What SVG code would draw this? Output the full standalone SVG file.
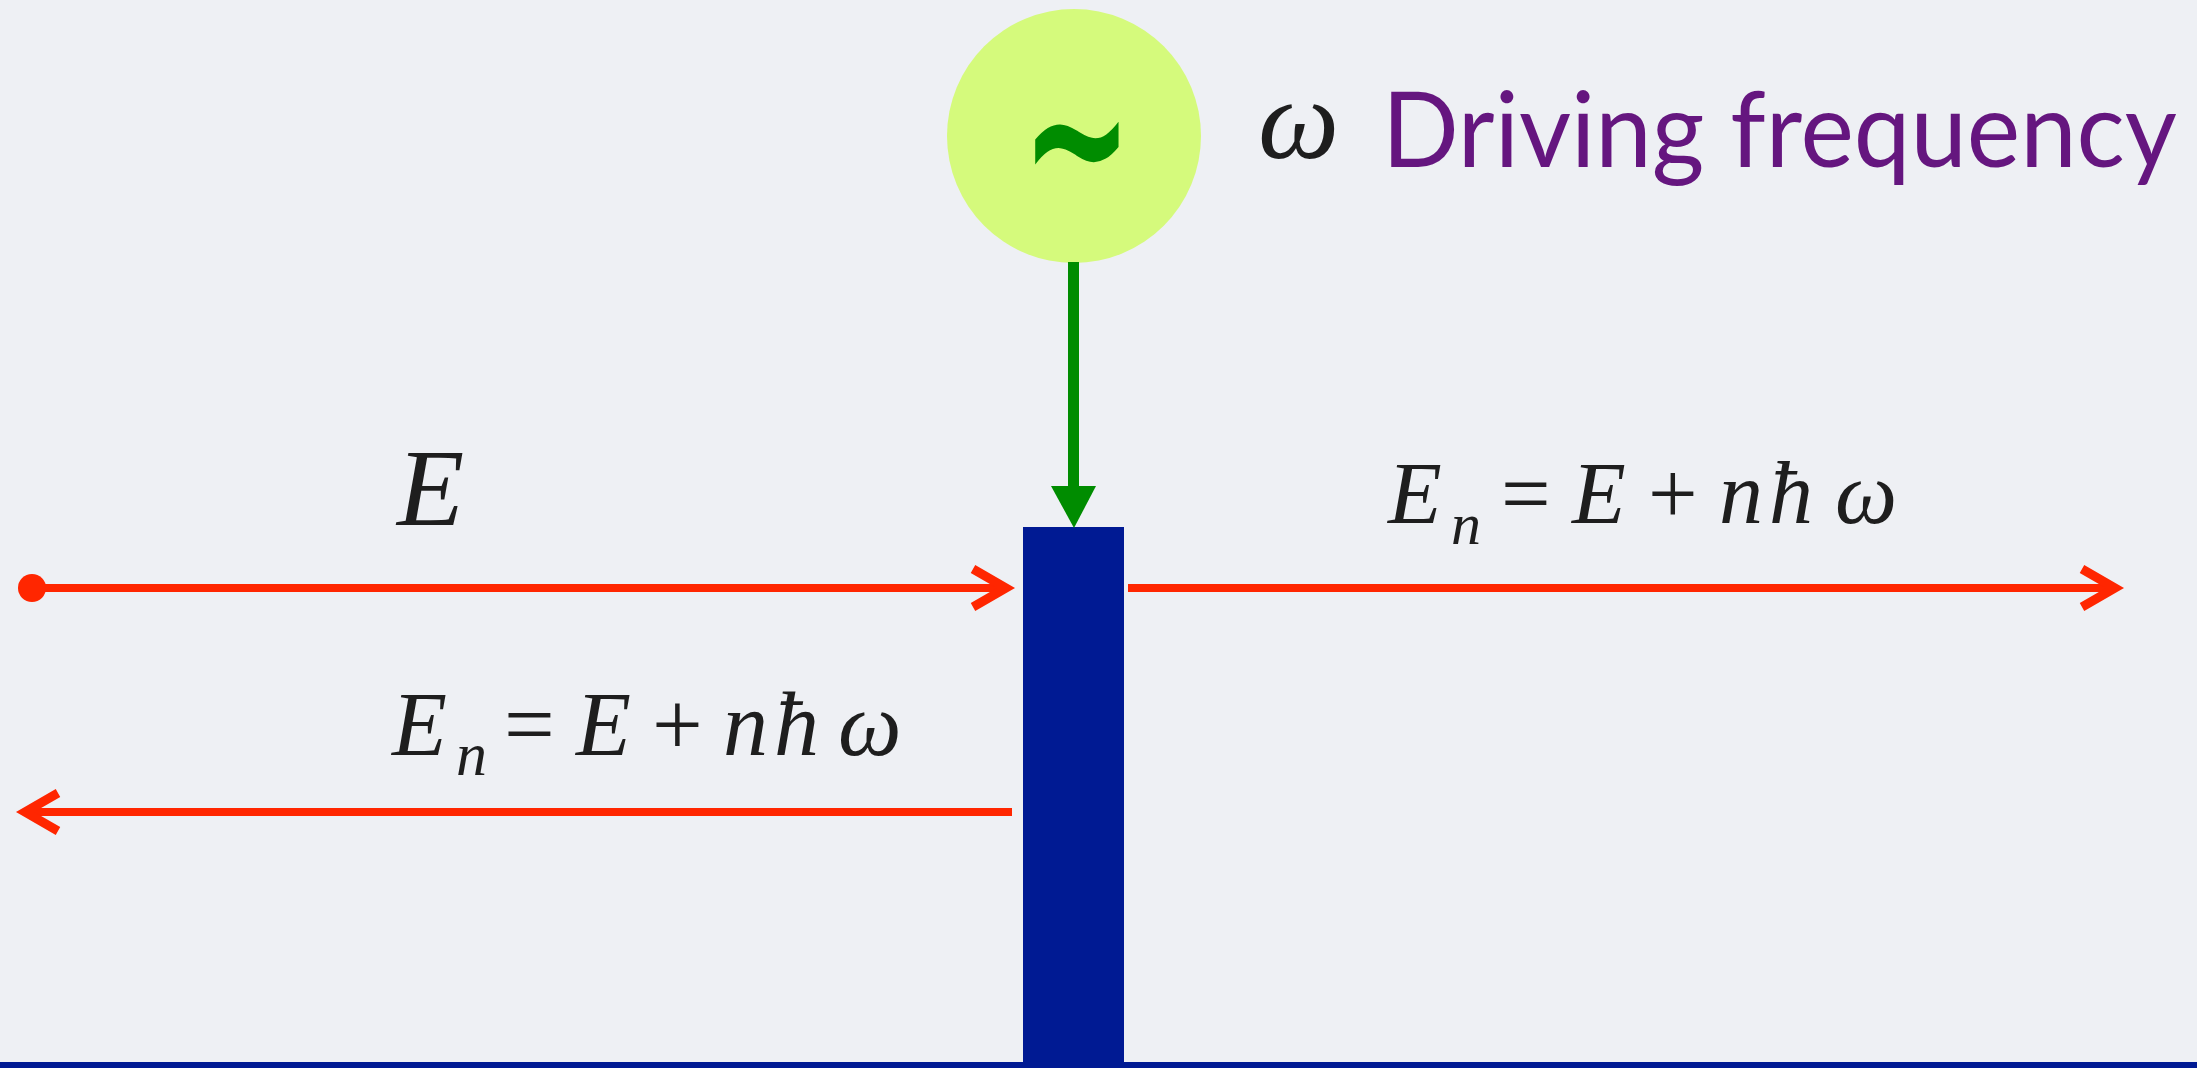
<svg xmlns="http://www.w3.org/2000/svg" width="2197" height="1068" viewBox="0 0 2197 1068">
<style>
.math{font-family:"Liberation Serif","Times New Roman",serif;font-style:italic;fill:#1e1e1e}
.op{font-family:"Liberation Serif","Times New Roman",serif;font-style:normal;fill:#1e1e1e}
.red{stroke:#ff2600;stroke-width:8;fill:none}
.title{font-family:Lato,"Liberation Sans",sans-serif;fill:#65167f}
</style>
<defs>
<marker id="chev" markerUnits="userSpaceOnUse" viewBox="-45 -25 55 50" markerWidth="55" markerHeight="50" refX="0" refY="0" orient="auto" overflow="visible">
<path d="M-33,-19 L0,0 L-33,19" fill="none" stroke="#ff2600" stroke-width="9"/>
</marker>
</defs>
<rect width="2197" height="1068" fill="#eef0f4"/>
<g id="source">
<circle cx="1074" cy="136" r="127" fill="#d5fa7c"/>
<text transform="translate(1077,140) scale(0.95,1.5)" x="0" y="46" text-anchor="middle" font-family="DejaVu Sans,sans-serif" font-size="140" font-weight="bold" fill="#008c00">∼</text>
</g>
<g id="source-label">
<text class="math" x="1258" y="158" font-size="115">ω</text>
<text class="title" x="1382" y="167" font-size="104" textLength="795" lengthAdjust="spacingAndGlyphs">Driving frequency</text>
</g>
<g id="barrier">
<rect x="1023" y="527" width="101" height="541" fill="#001a93"/>
<rect x="0" y="1062" width="2197" height="6" fill="#001a93"/>
</g>
<g id="connectors">
<line x1="1073.5" y1="262" x2="1073.5" y2="490" stroke="#008c00" stroke-width="11"/>
<polygon points="1051,486 1096,486 1074,528" fill="#008c00"/>
<circle cx="32" cy="588" r="14" fill="#ff2600"/>
<line class="red" x1="32" y1="588" x2="1006" y2="588" marker-end="url(#chev)"/>
<line class="red" x1="1128" y1="588" x2="2115" y2="588" marker-end="url(#chev)"/>
<line class="red" x1="1012" y1="812" x2="25" y2="812" marker-end="url(#chev)"/>
</g>
<g id="label-incident">
<text class="math" x="397" y="525" font-size="110">E</text>
</g>
<g id="label-transmitted">
<text class="math" x="1388" y="523" font-size="88">E</text>
<text class="math" x="1451" y="544" font-size="60">n</text>
<text class="op" x="1501" y="523" font-size="88">=</text>
<text class="math" x="1572" y="523" font-size="88">E</text>
<text class="op" x="1648" y="523" font-size="88">+</text>
<text class="math" x="1719" y="523" font-size="88">n</text>
<text class="math" x="1769" y="523" font-size="88">ħ</text>
<text class="math" x="1835" y="523" font-size="88">ω</text>
</g>
<g id="label-reflected">
<text class="math" x="392" y="755" font-size="90">E</text>
<text class="math" x="456" y="775" font-size="62">n</text>
<text class="op" x="504" y="755" font-size="90">=</text>
<text class="math" x="576" y="755" font-size="90">E</text>
<text class="op" x="652" y="755" font-size="90">+</text>
<text class="math" x="723" y="755" font-size="90">n</text>
<text class="math" x="774" y="755" font-size="90">ħ</text>
<text class="math" x="838" y="755" font-size="90">ω</text>
</g>
</svg>
